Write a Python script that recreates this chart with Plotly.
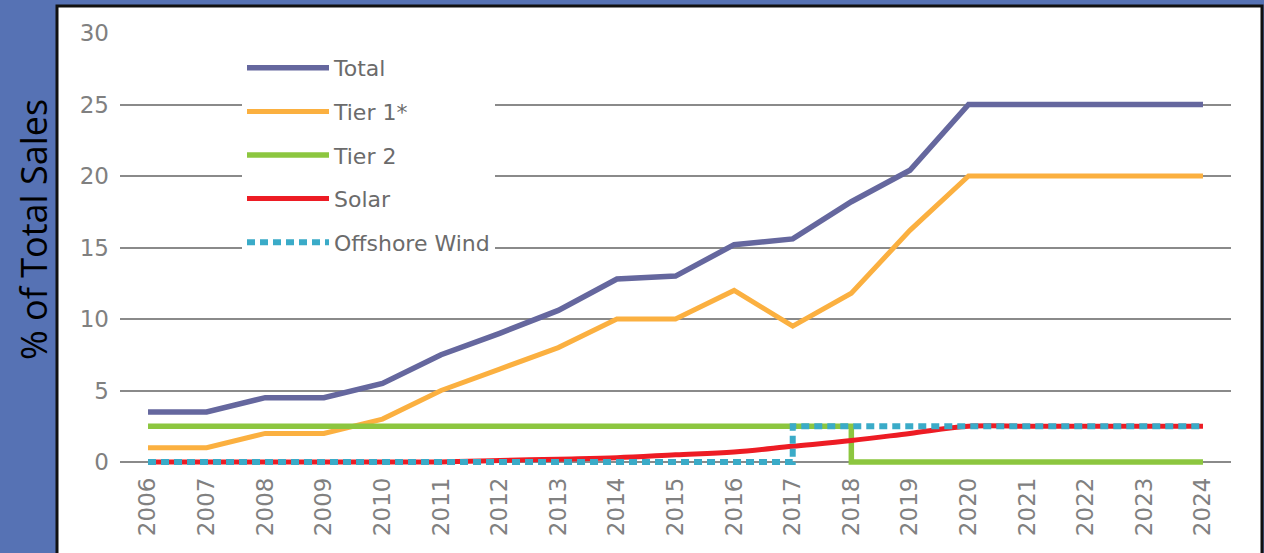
import plotly.graph_objects as go

# Renewable portfolio standard schedule, % of total sales by year
years = list(range(2006, 2025))
total = [3.5, 3.5, 4.5, 4.5, 5.5, 7.5, 9.0, 10.6, 12.8, 13.0, 15.2, 15.6, 18.2, 20.4, 25, 25, 25, 25, 25]
tier1 = [1, 1, 2, 2, 3, 5, 6.5, 8, 10, 10, 12, 9.5, 11.8, 16.2, 20, 20, 20, 20, 20]
tier2 = [2.5, 2.5, 2.5, 2.5, 2.5, 2.5, 2.5, 2.5, 2.5, 2.5, 2.5, 2.5, 0, 0, 0, 0, 0, 0, 0]
solar = [0, 0, 0, 0, 0, 0, 0.1, 0.2, 0.3, 0.5, 0.7, 1.1, 1.5, 2.0, 2.5, 2.5, 2.5, 2.5, 2.5]
offshore_wind = [0, 0, 0, 0, 0, 0, 0, 0, 0, 0, 0, 2.5, 2.5, 2.5, 2.5, 2.5, 2.5, 2.5, 2.5]
y_ticks = [0, 5, 10, 15, 20, 25, 30]

series = [
    ("Total", total, "#65679e", "solid", "linear", 5.5),
    ("Tier 1*", tier1, "#fbb040", "solid", "linear", 5),
    ("Tier 2", tier2, "#8cc63f", "solid", "hv", 5.5),
    ("Solar", solar, "#ed1c24", "solid", "spline", 5),
    ("Offshore Wind", offshore_wind, "#3aabc8", "8px,5px", "hv", 6),
]

fig = go.Figure()
for name, vals, color, dash, shape, width in series:
    fig.add_trace(go.Scatter(
        x=years, y=vals, name=name, mode="lines",
        line=dict(color=color, width=width, dash=dash, shape=shape),
        legendgroup=name,
    ))

W, H = 1264, 553
L, R, T, B = 120, 33, 33, 83
pw, ph = W - L - R, H - T - B


def px_x(p):
    return (p - L) / pw


def px_y(p):
    return (H - B - p) / ph


# white panel with a dark frame
fig.add_shape(
    type="rect", xref="paper", yref="paper", layer="below",
    x0=px_x(57), x1=px_x(1262), y0=px_y(580), y1=px_y(6),
    fillcolor="white", line=dict(color="#111111", width=3),
)

fig.add_annotation(
    text="% of Total Sales", xref="paper", yref="paper",
    x=px_x(33), y=px_y(230), textangle=-90, showarrow=False,
    xanchor="center", yanchor="middle",
    font=dict(family="Open Sans", size=36, color="black"),
)

fig.update_layout(
    width=W, height=H,
    margin=dict(l=L, r=R, t=T, b=B, autoexpand=False),
    paper_bgcolor="#5672b4",
    plot_bgcolor="rgba(0,0,0,0)",
    showlegend=True,
    legend=dict(
        xref="container", yref="container",
        x=242 / W, y=1 - 47 / H, xanchor="left", yanchor="top",
        bgcolor="white", font=dict(family="DejaVu Sans", size=22, color="#6b6b6b"),
        tracegroupgap=12, itemwidth=82,
    ),
    xaxis=dict(
        range=[2006 - 0.478, 2024 + 0.478], tickmode="array", tickvals=years,
        ticktext=[str(y) for y in years], tickangle=-90,
        showgrid=False, zeroline=False, showline=False, automargin=False,
        tickfont=dict(family="DejaVu Sans", size=23, color="#808080"),
        ticklabelstandoff=2,
    ),
    yaxis=dict(
        range=[-8 / 14.3, 30], tickmode="array", tickvals=y_ticks,
        showgrid=True, gridcolor="#8a8a8a", gridwidth=1.5,
        zeroline=False, showline=False, automargin=False,
        tickfont=dict(family="DejaVu Sans", size=23, color="#808080"),
        ticklabelstandoff=10,
    ),
)

fig.write_html("out.html")
